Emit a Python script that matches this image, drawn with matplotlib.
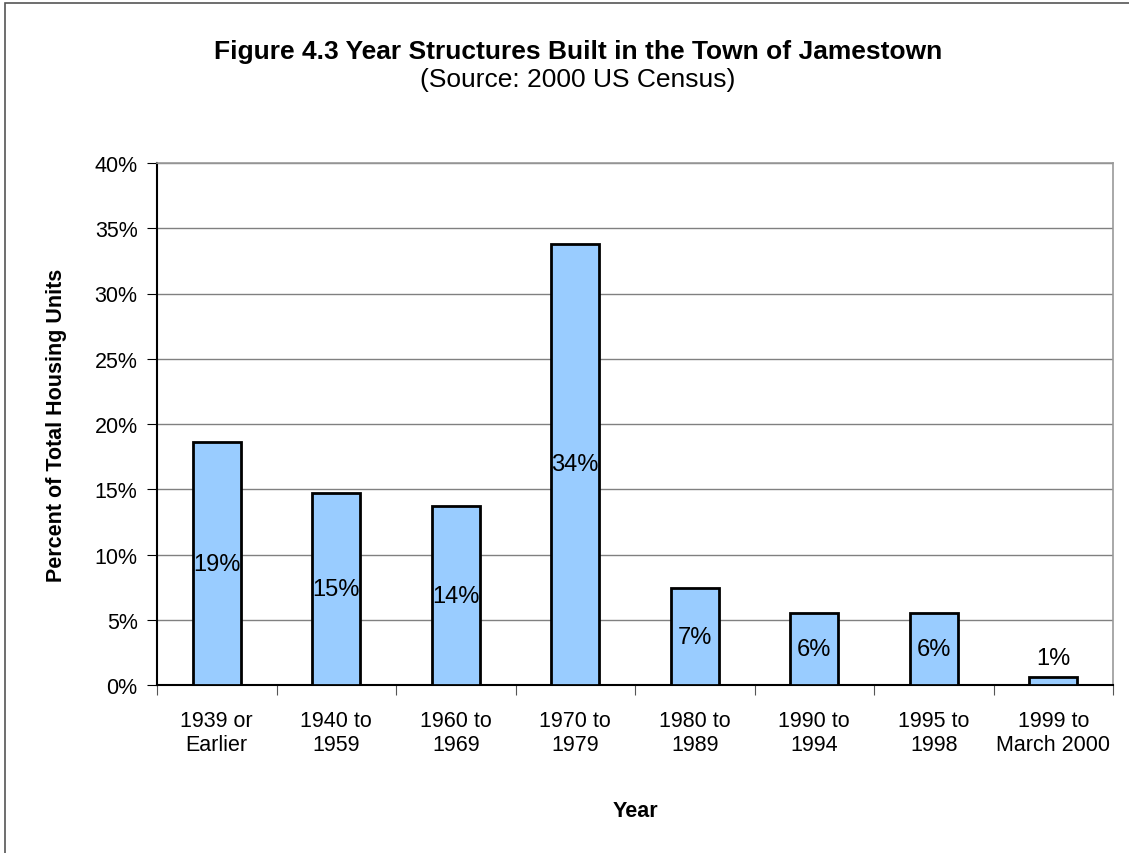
import matplotlib.pyplot as plt
from matplotlib.patches import Rectangle
from matplotlib.ticker import FuncFormatter, MultipleLocator

plt.rcParams["font.family"] = ["Liberation Sans", "DejaVu Sans"]

categories = ["1939 or\nEarlier", "1940 to\n1959", "1960 to\n1969", "1970 to\n1979",
              "1980 to\n1989", "1990 to\n1994", "1995 to\n1998", "1999 to\nMarch 2000"]
values = [18.6, 14.7, 13.7, 33.8, 7.4, 5.5, 5.5, 0.6]
labels = ["19%", "15%", "14%", "34%", "7%", "6%", "6%", "1%"]

fig = plt.figure(figsize=(11.29, 8.54), dpi=100)
ax = fig.add_axes([157 / 1129, 1 - 686 / 854, (1113 - 157) / 1129, (686 - 164) / 854])

# outer chart border
fig.patches.append(Rectangle((5 / 1129, -0.1), 1.2, 1 - 4 / 854 + 0.1,
                             transform=fig.transFigure, fill=False,
                             edgecolor="#555555", linewidth=1.2))

x = list(range(len(categories)))
ax.bar(x, values, width=0.4, color="#99CCFF", edgecolor="black", linewidth=2, zorder=3)

for xi, v, lab in zip(x, values, labels):
    if v < 2:
        ax.text(xi, v + 0.6, lab, ha="center", va="bottom", fontsize=17)
    else:
        ax.text(xi, v / 2, lab, ha="center", va="center", fontsize=17, zorder=4)

ax.set_xlim(-0.5, len(categories) - 0.5)
ax.set_ylim(0, 40)
ax.yaxis.set_major_locator(MultipleLocator(5))
ax.yaxis.set_major_formatter(FuncFormatter(lambda v, _: f"{v:.0f}%"))
ax.grid(axis="y", color="#808080", linewidth=1, zorder=0)

ax.set_xticks([i + 0.5 for i in range(-1, len(categories))], minor=False)
ax.set_xticklabels([])
ax.set_xticks(x, minor=True)
ax.set_xticklabels(categories, minor=True, fontsize=15.5)
ax.tick_params(axis="x", which="minor", length=0, pad=18)
ax.tick_params(axis="x", which="major", length=7, direction="out", color="#555555")
ax.tick_params(axis="y", length=7, direction="out", labelsize=15.5, pad=7)

for side in ["top", "right"]:
    ax.spines[side].set_color("#999999")
    ax.spines[side].set_linewidth(1.2)
ax.spines["left"].set_linewidth(1.5)
ax.spines["bottom"].set_linewidth(1.5)

ax.set_ylabel("Percent of Total Housing Units", fontsize=15.5, fontweight="bold", labelpad=20)
ax.set_xlabel("Year", fontsize=15.5, fontweight="bold", labelpad=32)

fig.text(578 / 1129, 1 - 52 / 854, "Figure 4.3 Year Structures Built in the Town of Jamestown",
         ha="center", va="center", fontsize=19, fontweight="bold")
fig.text(578 / 1129, 1 - 80 / 854, "(Source: 2000 US Census)",
         ha="center", va="center", fontsize=19)

fig.savefig("out.png", dpi=100)
